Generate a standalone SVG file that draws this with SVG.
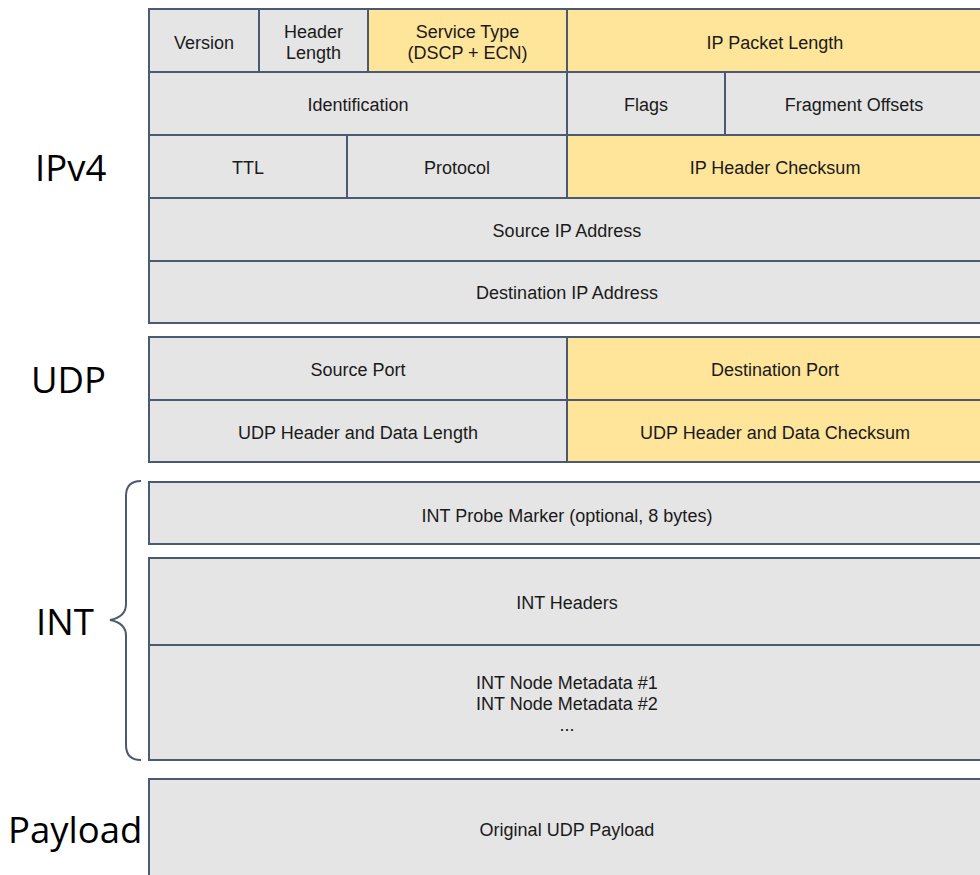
<svg xmlns="http://www.w3.org/2000/svg" width="980" height="875" viewBox="0 0 980 875">
<style>
.g{fill:#e5e5e5;stroke:#4b5a70;stroke-width:2}
.y{fill:#fee59a;stroke:#4b5a70;stroke-width:2}
.t{font-family:"Liberation Sans",Arial,sans-serif;font-size:18px;fill:#1a1a1a;text-anchor:middle;dominant-baseline:central}
.L{font-family:"Open Sans","Noto Sans",sans-serif;font-size:36.5px;fill:#000}
</style>
<rect width="980" height="875" fill="#fff"/>
<g id="labels">
<text class="L" x="35" y="181">IPv4</text>
<text class="L" x="31" y="393">UDP</text>
<text class="L" x="36" y="635">INT</text>
<text class="L" x="8" y="843">Payload</text>
</g>
<g id="ipv4">
<g id="version"><rect class="g" x="149" y="9" width="110" height="63"/><text class="t" x="204" y="43">Version</text></g>
<g id="hlen"><rect class="g" x="259" y="9" width="109" height="63"/><text class="t" x="313.5" y="32">Header</text><text class="t" x="313.5" y="53">Length</text></g>
<g id="stype"><rect class="y" x="368" y="9" width="199" height="63"/><text class="t" x="467.5" y="32">Service Type</text><text class="t" x="467.5" y="53">(DSCP + ECN)</text></g>
<g id="iplen"><rect class="y" x="567" y="9" width="425" height="63"/><text class="t" x="775" y="43">IP Packet Length</text></g>
<g id="ident"><rect class="g" x="149" y="72" width="418" height="63"/><text class="t" x="358" y="105">Identification</text></g>
<g id="flags"><rect class="g" x="567" y="72" width="158" height="63"/><text class="t" x="646" y="105">Flags</text></g>
<g id="frag"><rect class="g" x="725" y="72" width="267" height="63"/><text class="t" x="854" y="105">Fragment Offsets</text></g>
<g id="ttl"><rect class="g" x="149" y="135" width="198" height="63"/><text class="t" x="248" y="168">TTL</text></g>
<g id="proto"><rect class="g" x="347" y="135" width="220" height="63"/><text class="t" x="457" y="168">Protocol</text></g>
<g id="ipcsum"><rect class="y" x="567" y="135" width="425" height="63"/><text class="t" x="775" y="168">IP Header Checksum</text></g>
<g id="srcip"><rect class="g" x="149" y="198" width="843" height="63"/><text class="t" x="567" y="231">Source IP Address</text></g>
<g id="dstip"><rect class="g" x="149" y="261" width="843" height="62"/><text class="t" x="567" y="293">Destination IP Address</text></g>
</g>
<g id="udp">
<g id="sport"><rect class="g" x="149" y="337" width="418" height="63"/><text class="t" x="358" y="370">Source Port</text></g>
<g id="dport"><rect class="y" x="567" y="337" width="425" height="63"/><text class="t" x="775" y="370">Destination Port</text></g>
<g id="ulen"><rect class="g" x="149" y="400" width="418" height="62"/><text class="t" x="358" y="433">UDP Header and Data Length</text></g>
<g id="ucsum"><rect class="y" x="567" y="400" width="425" height="62"/><text class="t" x="775" y="433">UDP Header and Data Checksum</text></g>
</g>
<g id="int">
<g id="probe"><rect class="g" x="149" y="482" width="843" height="62"/><text class="t" x="567" y="516">INT Probe Marker (optional, 8 bytes)</text></g>
<g id="inthdr"><rect class="g" x="149" y="558" width="843" height="87"/><text class="t" x="567" y="603">INT Headers</text></g>
<g id="intmeta"><rect class="g" x="149" y="645" width="843" height="115"/><text class="t" x="567" y="683">INT Node Metadata #1</text><text class="t" x="567" y="704">INT Node Metadata #2</text><text class="t" x="567" y="725">...</text></g>
</g>
<g id="payload"><rect class="g" x="149" y="779" width="843" height="110"/><text class="t" x="567" y="830">Original UDP Payload</text></g>
<g id="connectors">
<path d="M141 481 Q126 481 126 496 L126 604 Q126 617 110 620 Q126 623 126 636 L126 745 Q126 760 141 760" fill="none" stroke="#4b5a70" stroke-width="2"/>
</g>
</svg>
